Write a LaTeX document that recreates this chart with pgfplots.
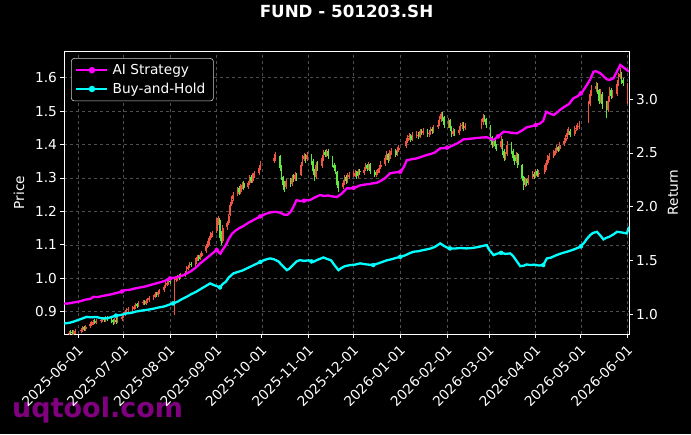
\documentclass[border=0pt]{standalone}
\usepackage{pgfplots}
\pgfplotsset{compat=1.18}
\usepackage{pgfplotstable}
\usepackage{fontspec}
\setmainfont{DejaVu Sans}
\definecolor{cred}{RGB}{238,84,66}
\definecolor{cgreen}{RGB}{96,232,64}
\definecolor{gridc}{RGB}{78,78,78}
\definecolor{wm}{RGB}{128,0,128}
\definecolor{mag}{RGB}{255,0,255}
\definecolor{cya}{RGB}{0,255,255}

\pgfplotstableread{
d o h l c
-6 0.832 0.841 0.828 0.836
-5 0.840 0.844 0.833 0.838
-4 0.840 0.845 0.830 0.835
-3 0.834 0.846 0.830 0.840
-2 0.838 0.849 0.834 0.843
2 0.842 0.852 0.837 0.846
3 0.845 0.856 0.840 0.850
4 0.853 0.857 0.842 0.848
5 0.847 0.861 0.843 0.855
8 0.856 0.868 0.851 0.862
9 0.860 0.872 0.856 0.866
10 0.865 0.876 0.860 0.870
11 0.872 0.877 0.862 0.868
12 0.866 0.879 0.862 0.872
15 0.871 0.882 0.866 0.875
16 0.874 0.885 0.869 0.878
17 0.879 0.884 0.868 0.874
18 0.873 0.887 0.869 0.880
19 0.882 0.886 0.871 0.877
22 0.878 0.883 0.866 0.872
23 0.874 0.878 0.861 0.868
24 0.867 0.880 0.862 0.874
25 0.876 0.880 0.864 0.870
26 0.869 0.883 0.865 0.876
29 0.877 0.891 0.872 0.885
30 0.884 0.899 0.880 0.893
31 0.892 0.906 0.888 0.900
32 0.899 0.911 0.895 0.905
33 0.904 0.914 0.899 0.908
36 0.907 0.916 0.902 0.910
37 0.909 0.921 0.904 0.915
38 0.914 0.926 0.909 0.920
39 0.922 0.927 0.912 0.918
40 0.917 0.931 0.913 0.925
43 0.926 0.934 0.921 0.928
44 0.930 0.934 0.919 0.925
45 0.924 0.938 0.920 0.932
46 0.931 0.941 0.926 0.935
47 0.934 0.946 0.929 0.940
50 0.939 0.951 0.934 0.945
51 0.944 0.958 0.940 0.952
52 0.954 0.959 0.944 0.950
53 0.949 0.964 0.945 0.958
54 0.957 0.968 0.952 0.962
57 0.964 0.981 0.960 0.975
58 0.974 0.988 0.970 0.982
59 0.981 0.991 0.976 0.985
60 0.984 0.996 0.979 0.990
61 0.992 0.997 0.982 0.988
64 0.990 1.002 0.890 0.995
65 0.994 1.005 0.989 0.998
66 0.997 1.011 0.992 1.005
67 1.007 1.012 0.996 1.002
68 1.001 1.016 0.997 1.010
71 1.009 1.021 1.004 1.015
72 1.016 1.036 1.012 1.030
73 1.029 1.041 1.024 1.035
74 1.034 1.048 1.030 1.042
75 1.044 1.049 1.034 1.040
78 1.042 1.061 1.038 1.055
79 1.054 1.068 1.050 1.062
80 1.064 1.069 1.052 1.058
81 1.057 1.074 1.053 1.068
82 1.067 1.081 1.063 1.075
85 1.080 1.101 1.076 1.095
86 1.094 1.112 1.090 1.105
87 1.104 1.126 1.100 1.120
88 1.119 1.137 1.114 1.130
89 1.129 1.142 1.124 1.135
92 1.140 1.180 1.135 1.170
93 1.172 1.186 1.160 1.180
94 1.175 1.180 1.120 1.130
95 1.135 1.140 1.100 1.110
96 1.112 1.158 1.106 1.150
99 1.152 1.172 1.145 1.165
100 1.166 1.192 1.160 1.185
101 1.190 1.228 1.185 1.220
102 1.222 1.245 1.215 1.235
103 1.236 1.258 1.230 1.250
106 1.252 1.272 1.245 1.265
107 1.270 1.276 1.250 1.258
108 1.258 1.282 1.252 1.275
109 1.276 1.288 1.268 1.280
110 1.284 1.290 1.264 1.270
113 1.272 1.292 1.266 1.285
114 1.286 1.308 1.280 1.300
115 1.302 1.310 1.284 1.290
116 1.291 1.316 1.286 1.310
117 1.308 1.322 1.300 1.315
120 1.316 1.338 1.310 1.330
121 1.331 1.352 1.325 1.345
130 1.350 1.372 1.345 1.360
131 1.362 1.378 1.352 1.370
134 1.365 1.368 1.322 1.330
135 1.332 1.338 1.295 1.300
136 1.302 1.305 1.265 1.280
137 1.282 1.290 1.258 1.270
138 1.272 1.298 1.266 1.290
141 1.292 1.300 1.272 1.280
142 1.281 1.310 1.276 1.300
143 1.302 1.312 1.288 1.295
144 1.296 1.318 1.290 1.310
145 1.312 1.316 1.292 1.300
148 1.310 1.348 1.305 1.340
149 1.342 1.370 1.336 1.360
150 1.358 1.374 1.350 1.365
151 1.368 1.372 1.345 1.355
152 1.356 1.378 1.350 1.370
155 1.368 1.372 1.340 1.350
156 1.352 1.356 1.310 1.320
157 1.322 1.326 1.290 1.300
158 1.302 1.348 1.298 1.340
159 1.342 1.350 1.322 1.330
162 1.335 1.368 1.330 1.360
163 1.360 1.383 1.352 1.375
164 1.378 1.385 1.362 1.370
165 1.372 1.388 1.364 1.380
166 1.382 1.386 1.356 1.365
169 1.362 1.366 1.332 1.340
170 1.338 1.346 1.322 1.330
171 1.332 1.340 1.312 1.320
172 1.318 1.322 1.270 1.280
173 1.282 1.290 1.258 1.270
176 1.272 1.294 1.266 1.285
177 1.286 1.310 1.280 1.300
178 1.302 1.308 1.282 1.290
179 1.291 1.314 1.286 1.305
180 1.304 1.318 1.298 1.310
183 1.308 1.320 1.302 1.310
184 1.309 1.324 1.304 1.315
185 1.318 1.322 1.298 1.305
186 1.306 1.326 1.300 1.320
187 1.322 1.328 1.310 1.318
190 1.316 1.334 1.310 1.325
191 1.326 1.344 1.320 1.335
192 1.338 1.342 1.322 1.330
193 1.331 1.348 1.325 1.340
194 1.342 1.345 1.312 1.320
197 1.318 1.325 1.302 1.310
198 1.309 1.324 1.303 1.315
199 1.314 1.328 1.308 1.320
200 1.321 1.338 1.315 1.330
201 1.332 1.350 1.326 1.340
204 1.342 1.370 1.336 1.360
205 1.362 1.382 1.355 1.370
206 1.372 1.376 1.346 1.355
207 1.356 1.384 1.350 1.375
208 1.376 1.390 1.368 1.380
211 1.382 1.388 1.362 1.370
212 1.371 1.393 1.365 1.385
213 1.384 1.398 1.378 1.390
218 1.395 1.420 1.390 1.410
219 1.412 1.430 1.405 1.420
220 1.422 1.435 1.414 1.425
221 1.427 1.432 1.408 1.415
222 1.416 1.438 1.410 1.430
225 1.428 1.440 1.420 1.430
226 1.432 1.438 1.418 1.425
227 1.424 1.448 1.420 1.440
228 1.442 1.448 1.428 1.435
229 1.434 1.450 1.428 1.440
232 1.442 1.446 1.422 1.430
233 1.431 1.444 1.424 1.435
234 1.436 1.454 1.430 1.445
235 1.447 1.452 1.432 1.440
236 1.441 1.460 1.436 1.450
239 1.452 1.472 1.446 1.460
240 1.462 1.486 1.456 1.475
241 1.476 1.498 1.468 1.490
242 1.492 1.496 1.470 1.480
243 1.482 1.486 1.450 1.460
246 1.458 1.480 1.450 1.470
247 1.472 1.476 1.440 1.450
248 1.452 1.456 1.422 1.430
249 1.431 1.450 1.425 1.440
250 1.442 1.448 1.426 1.435
253 1.436 1.455 1.430 1.445
254 1.446 1.464 1.440 1.455
255 1.456 1.468 1.448 1.460
256 1.462 1.466 1.442 1.450
257 1.451 1.464 1.444 1.455
268 1.452 1.476 1.446 1.465
269 1.466 1.490 1.460 1.480
270 1.482 1.488 1.466 1.475
271 1.476 1.480 1.450 1.460
274 1.455 1.460 1.412 1.420
275 1.422 1.426 1.390 1.400
276 1.401 1.418 1.394 1.410
277 1.412 1.416 1.386 1.395
278 1.396 1.402 1.380 1.390
281 1.392 1.425 1.386 1.410
282 1.412 1.416 1.370 1.380
283 1.382 1.388 1.350 1.360
284 1.361 1.378 1.354 1.370
285 1.372 1.410 1.366 1.400
288 1.402 1.408 1.372 1.380
289 1.381 1.386 1.350 1.360
290 1.362 1.368 1.340 1.350
291 1.351 1.378 1.346 1.370
292 1.372 1.376 1.330 1.340
295 1.338 1.342 1.290 1.300
296 1.302 1.306 1.265 1.280
297 1.281 1.300 1.274 1.290
298 1.292 1.298 1.276 1.285
299 1.286 1.310 1.280 1.300
302 1.302 1.320 1.296 1.310
303 1.312 1.318 1.298 1.305
304 1.306 1.328 1.300 1.320
305 1.322 1.326 1.302 1.310
306 1.311 1.324 1.304 1.315
310 1.318 1.340 1.312 1.330
311 1.331 1.354 1.325 1.345
312 1.346 1.370 1.340 1.360
313 1.361 1.374 1.354 1.365
316 1.366 1.384 1.360 1.375
317 1.376 1.390 1.368 1.380
318 1.381 1.398 1.374 1.390
319 1.392 1.396 1.378 1.385
320 1.386 1.408 1.380 1.400
323 1.402 1.420 1.396 1.410
324 1.412 1.430 1.405 1.420
325 1.422 1.448 1.416 1.435
326 1.436 1.452 1.428 1.440
327 1.442 1.448 1.422 1.430
330 1.432 1.455 1.426 1.445
331 1.446 1.460 1.440 1.450
332 1.452 1.464 1.444 1.455
333 1.456 1.470 1.448 1.460
339 1.470 1.530 1.465 1.520
340 1.522 1.562 1.515 1.550
341 1.552 1.578 1.545 1.565
344 1.566 1.588 1.558 1.575
345 1.578 1.584 1.550 1.560
346 1.562 1.566 1.520 1.530
347 1.532 1.565 1.525 1.550
348 1.552 1.556 1.505 1.520
351 1.522 1.530 1.480 1.500
352 1.502 1.545 1.496 1.530
353 1.532 1.572 1.526 1.560
354 1.562 1.568 1.536 1.545
355 1.546 1.562 1.538 1.550
358 1.552 1.592 1.546 1.580
359 1.582 1.615 1.575 1.600
360 1.602 1.628 1.595 1.610
361 1.612 1.618 1.580 1.590
362 1.592 1.600 1.575 1.585
365 1.530 1.585 1.520 1.570
}\candles

\tikzset{
  lbl/.style={font=\fontsize{13.7}{15}\selectfont, text=white},
}

\begin{document}
\begin{tikzpicture}
\fill[black] (-64pt,-100pt) rectangle (627pt,334pt);
\node[anchor=base west, inner sep=0pt, text=wm, font=\fontsize{27}{27}\selectfont\bfseries] at (-52pt,-83pt) {uqtool.com};

\begin{axis}[
  at={(0pt,0pt)}, anchor=south west,
  width=565pt, height=283pt, scale only axis,
  xmin=-9.5, xmax=366, ymin=0.833, ymax=1.68,
  axis line style={white, line width=0.8pt},
  xtick={0,30,61,92,122,153,183,214,245,273,304,334,365},
  xticklabels={2025-06-01,2025-07-01,2025-08-01,2025-09-01,2025-10-01,2025-11-01,2025-12-01,2026-01-01,2026-02-01,2026-03-01,2026-04-01,2026-05-01,2026-06-01},
  ytick={0.9,1.0,1.1,1.2,1.3,1.4,1.5,1.6},
  xtick pos=bottom, ytick pos=left,
  tick align=outside, major tick length=3.5pt,
  every tick/.style={white, line width=0.8pt},
  /pgf/number format/assume math mode=true,
  ticklabel style={lbl},
  yticklabel style={/pgf/number format/.cd, fixed, fixed zerofill, precision=1},
  xticklabel style={rotate=45, anchor=north east, xshift=-2pt},
  grid=major, major grid style={gridc, dashed, line width=0.5pt},
  ylabel={Price},
  every axis y label/.style={at={(axis description cs:-0.0796,0.5)}, rotate=90, anchor=center, lbl},
  title={FUND - 501203.SH},
  title style={text=white, font=\fontsize{16.7}{18}\selectfont\bfseries, at={(axis description cs:0.5,1)}, anchor=base, yshift=27pt},
]
% wicks up (red)
\addplot[draw=none, mark=none, forget plot,
  restrict expr to domain={\thisrow{c}-\thisrow{o}}{0:1},
  error bars/.cd, y dir=both, y explicit, error mark=none,
  error bar style={draw=cred, line width=0.7pt, solid}]
  table[x=d, y=o, y error plus expr={\thisrow{h}-\thisrow{o}}, y error minus expr={\thisrow{o}-\thisrow{l}}]{\candles};
% bodies up (red)
\addplot[draw=none, mark=none, forget plot,
  restrict expr to domain={\thisrow{c}-\thisrow{o}}{0:1},
  error bars/.cd, y dir=plus, y explicit, error mark=none,
  error bar style={draw=cred, line width=1.7pt, solid}]
  table[x=d, y=o, y error expr={\thisrow{c}-\thisrow{o}}]{\candles};
% wicks down (green)
\addplot[draw=none, mark=none, forget plot,
  restrict expr to domain={\thisrow{c}-\thisrow{o}}{-1:-0.0001},
  error bars/.cd, y dir=both, y explicit, error mark=none,
  error bar style={draw=cgreen, line width=0.7pt, solid}]
  table[x=d, y=c, y error plus expr={\thisrow{h}-\thisrow{c}}, y error minus expr={\thisrow{c}-\thisrow{l}}]{\candles};
% bodies down (green)
\addplot[draw=none, mark=none, forget plot,
  restrict expr to domain={\thisrow{c}-\thisrow{o}}{-1:-0.0001},
  error bars/.cd, y dir=plus, y explicit, error mark=none,
  error bar style={draw=cgreen, line width=1.7pt, solid}]
  table[x=d, y=c, y error expr={\thisrow{o}-\thisrow{c}}]{\candles};
\end{axis}

\begin{axis}[
  at={(0pt,0pt)}, anchor=south west,
  width=565pt, height=283pt, scale only axis,
  xmin=-9.5, xmax=366, ymin=0.814, ymax=3.45,
  axis x line=none, axis y line*=right,
  axis line style={white, line width=0.8pt},
  ytick={1.0,1.5,2.0,2.5,3.0},
  tick align=outside, major tick length=3.5pt,
  every tick/.style={white, line width=0.8pt},
  /pgf/number format/assume math mode=true,
  ticklabel style={lbl},
  yticklabel style={/pgf/number format/.cd, fixed, fixed zerofill, precision=1},
  ylabel={Return},
  every axis y label/.style={at={(axis description cs:1.0779,0.5)}, rotate=90, anchor=center, lbl},
  legend image code/.code={\draw[#1] (0pt,0pt) -- (31pt,0pt); \fill[#1] (15.5pt,0pt) circle (2pt);},
  legend style={at={(axis description cs:0.0124,0.975)}, anchor=north west,
    fill=black, draw=white!80!black, line width=0.6pt, rounded corners=3pt,
    text=white, font=\fontsize{13.7}{15}\selectfont, row sep=3pt, inner xsep=4pt, inner ysep=4pt,
    nodes={inner xsep=4pt}},
  legend cell align=left,
]
\addplot[mag, line width=2.3pt] coordinates {
(-9.5,1.099) (-7,1.097) (-4,1.106) (-1,1.112) (2,1.122) (5,1.135) (8,1.140) (10,1.160)
(13,1.158) (16,1.168) (19,1.176) (22,1.184) (25,1.195) (28,1.205) (31,1.222) (34,1.225)
(37,1.236) (40,1.245) (43,1.252) (46,1.262) (49,1.275) (52,1.286) (55,1.298) (58,1.312)
(61,1.332) (64,1.338) (67,1.350) (70,1.362) (72,1.378) (75,1.40) (78,1.432) (81,1.472)
(84,1.505) (87,1.54) (90,1.575) (92,1.596) (93,1.580) (94.5,1.562) (96,1.60) (98,1.64)
(100,1.70) (102,1.745) (104,1.772) (107,1.80) (110,1.822) (113,1.850) (116,1.872)
(119,1.895) (121,1.91) (125,1.935) (128,1.948) (131,1.952) (134,1.945) (137,1.925)
(139,1.925) (141,1.950) (143,1.999) (145,2.060) (148,2.052) (151,2.058) (154,2.062)
(157,2.085) (160.7,2.108) (163,2.10) (166,2.104) (169,2.095) (172,2.090) (175,2.120)
(178.5,2.171) (181,2.170) (184,2.178) (187,2.197) (190,2.205) (193,2.210) (196,2.218)
(198.4,2.223) (201,2.24) (204,2.268) (207,2.310) (210,2.318) (214,2.325) (216,2.36)
(218.4,2.434) (221,2.44) (225,2.45) (228,2.465) (231.6,2.481) (234,2.49) (237,2.505)
(240.5,2.543) (243,2.545) (246,2.552) (249.3,2.574) (252,2.59) (256,2.627) (260,2.632)
(265,2.64) (269,2.645) (271.5,2.646) (273,2.64) (276,2.620) (278,2.645) (280,2.665)
(282.6,2.698) (285,2.695) (288,2.688) (291.5,2.683) (293,2.695) (295,2.71) (298,2.739)
(301,2.748) (304,2.76) (307,2.776) (309,2.80) (311,2.884) (313,2.87) (316,2.854)
(318,2.875) (320,2.90) (323,2.93) (326,2.955) (329,3.009) (332,3.03) (335,3.07)
(338,3.133) (340,3.18) (342.4,3.257) (344,3.262) (347,3.242) (349,3.215) (351.3,3.186)
(353,3.18) (355.7,3.196) (358,3.26) (360.2,3.320) (362,3.30) (364,3.28) (366,3.257)
};
\addlegendentry{AI Strategy}
\addplot[cya, line width=2.3pt] coordinates {
(-9.5,0.912) (-6,0.918) (-3,0.93) (0,0.945) (2,0.955) (5.6,0.974) (8,0.970) (12,0.972)
(15,0.962) (18.9,0.959) (22,0.972) (25,0.985) (28,0.990) (32.2,1.006) (35,1.010) (38,1.022)
(41,1.030) (44,1.036) (47,1.042) (50,1.050) (53,1.060) (57,1.07) (60,1.085) (63,1.099)
(66,1.115) (69,1.14) (72,1.160) (75,1.185) (78,1.205) (81,1.23) (84,1.255) (87.6,1.285)
(90,1.27) (92,1.26) (94.2,1.248) (96,1.28) (98,1.30) (100,1.34) (103,1.378) (106,1.392)
(109,1.405) (112,1.425) (115,1.445) (118,1.465) (121,1.485) (124,1.505) (127.5,1.518)
(130,1.51) (133,1.49) (136,1.445) (138.6,1.409) (140,1.42) (143,1.46) (145,1.49)
(147.4,1.502) (150,1.495) (153,1.50) (156,1.485) (159,1.505) (162.9,1.527) (165,1.515)
(168,1.50) (170,1.46) (172.9,1.409) (175,1.43) (177,1.445) (180.7,1.456) (184,1.46)
(187.3,1.472) (190,1.465) (193,1.46) (196,1.456) (199,1.47) (202,1.485) (205,1.50)
(208,1.51) (211,1.522) (214,1.533) (217,1.545) (220,1.565) (222.7,1.580) (226,1.585)
(229,1.595) (231.6,1.602) (234,1.61) (237,1.625) (240.5,1.658) (243,1.635) (245,1.62)
(247,1.611) (250,1.61) (254,1.615) (258,1.611) (262,1.615) (266,1.625) (269,1.635)
(271.5,1.642) (273,1.60) (276,1.549) (279,1.565) (281,1.57) (284,1.56) (287,1.565)
(289,1.54) (291,1.50) (293.7,1.446) (296,1.45) (298,1.462) (300.4,1.456) (303,1.46)
(306,1.452) (309,1.456) (311.4,1.518) (314,1.525) (318,1.55) (321,1.565) (324.7,1.580)
(327,1.59) (330,1.605) (333.6,1.626) (336,1.66) (338,1.70) (340.2,1.735) (342,1.755)
(344.7,1.766) (347,1.73) (349,1.695) (351,1.71) (353,1.72) (356,1.745) (358,1.766)
(361,1.76) (364.6,1.751) (366,1.813)
};
\addlegendentry{Buy-and-Hold}
\addplot[only marks, mark=*, mark size=2pt, mag, forget plot] coordinates {
(29,1.210) (61,1.332) (92,1.596) (121,1.91) (150,2.055) (183,2.176) (214,2.325) (245,2.55) (279,2.655) (304,2.76) (334,3.055)
};
\addplot[only marks, mark=*, mark size=2pt, cya, forget plot] coordinates {
(25,0.985) (63,1.099) (94.2,1.248) (121,1.485) (155,1.49) (196,1.456) (214,1.533) (247,1.611) (281,1.57) (309,1.456) (334,1.63)
};
\end{axis}
\pgfresetboundingbox
\useasboundingbox (-64pt,-100pt) rectangle (627pt,334pt);
\end{tikzpicture}
\end{document}
